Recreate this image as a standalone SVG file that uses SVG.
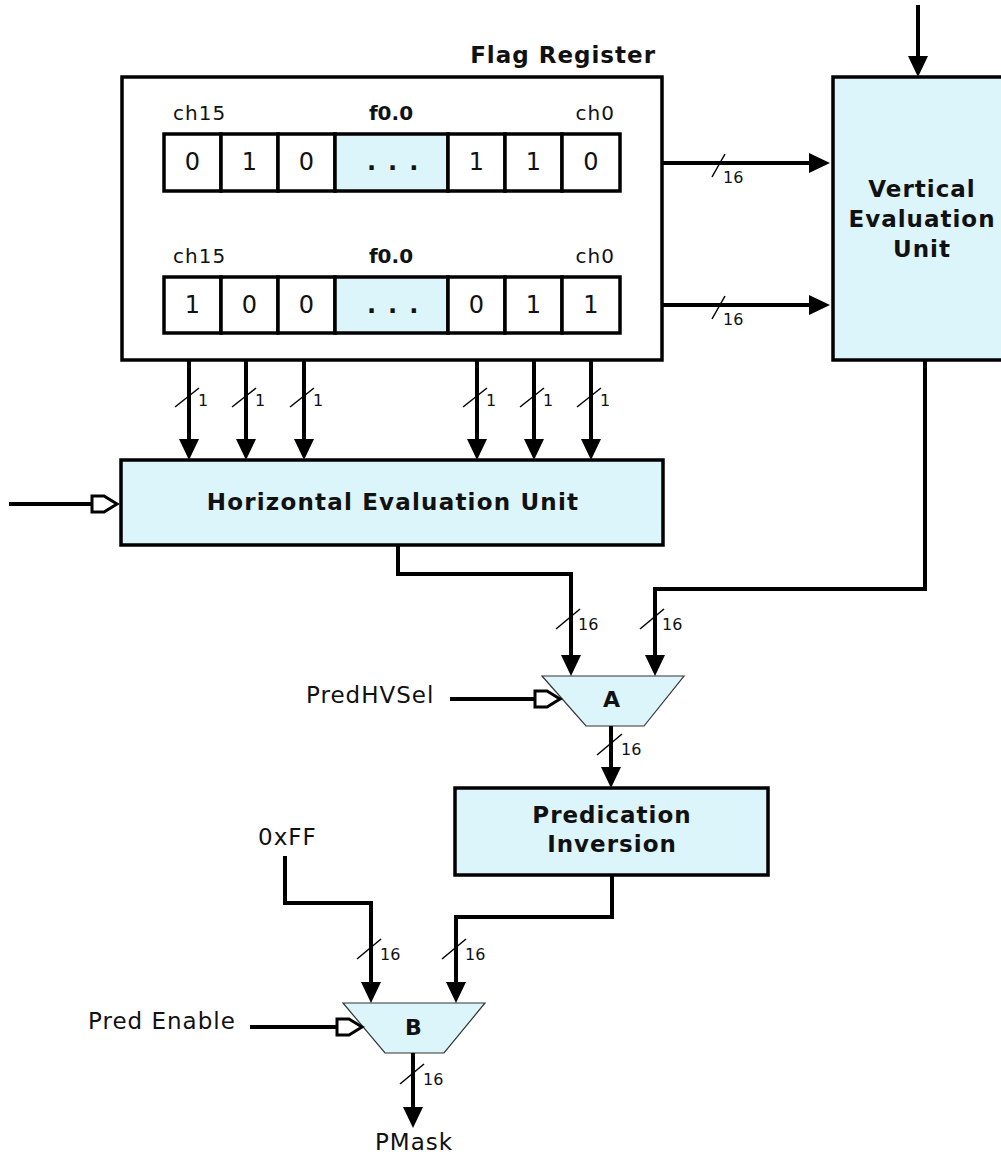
<svg xmlns="http://www.w3.org/2000/svg" width="1001" height="1155" viewBox="0 0 1001 1155">
<style>
.box{fill:#ffffff;stroke:#000;stroke-width:3.5}
.blue{fill:#dcf5fa;stroke:#000;stroke-width:3.5}
.cell{fill:#ffffff;stroke:#000;stroke-width:3.5}
.cellb{fill:#dcf5fa;stroke:#000;stroke-width:3.5}
.mux{fill:#dcf5fa;stroke:#333;stroke-width:1.2}
.wire{fill:none;stroke:#000;stroke-width:4}
.slash{fill:none;stroke:#000;stroke-width:1.5}
.t{font-family:"DejaVu Sans",Verdana,sans-serif;font-size:23px;letter-spacing:1px;fill:#111}
.ch{font-family:"DejaVu Sans",Verdana,sans-serif;font-size:20px;letter-spacing:1px;fill:#111}
.d{font-family:"DejaVu Sans",Verdana,sans-serif;font-size:24px;fill:#111;text-anchor:middle}
.dots{font-family:"DejaVu Sans",Verdana,sans-serif;font-size:24px;font-weight:bold;fill:#111;text-anchor:start;letter-spacing:12px}
.b{font-family:"DejaVu Sans",Verdana,sans-serif;font-size:23px;font-weight:bold;letter-spacing:1px;fill:#111}
.fb{font-family:"DejaVu Sans",Verdana,sans-serif;font-size:20px;font-weight:bold;fill:#111;text-anchor:middle}
.n{font-family:"DejaVu Sans",Verdana,sans-serif;font-size:16px;fill:#111}
.m{text-anchor:middle}
</style>
<defs>
<marker id="arr" markerUnits="userSpaceOnUse" viewBox="-20 -12 30 24" markerWidth="30" markerHeight="24" refX="0" refY="0" orient="auto" overflow="visible">
<path d="M-15,-10 L6,0 L-15,10 Z" fill="#000"/>
</marker>
<marker id="open" markerUnits="userSpaceOnUse" viewBox="-2 -10 30 20" markerWidth="30" markerHeight="20" refX="0" refY="0" orient="auto" overflow="visible">
<path d="M0,-8 H12 L25,0 L12,8 H0 Z" fill="#fff" stroke="#000" stroke-width="3"/>
</marker>
</defs>

<g id="flag-register">
<text class="b" x="656" y="63" text-anchor="end">Flag Register</text>
<rect class="box" x="122" y="77" width="540" height="283"/>
<g id="row1">
<text class="ch" x="173" y="120">ch15</text>
<text class="fb" x="391" y="120">f0.0</text>
<text class="ch" x="615" y="120" text-anchor="end">ch0</text>
<rect class="cell" x="164" y="134" width="57" height="57"/>
<rect class="cell" x="221" y="134" width="57" height="57"/>
<rect class="cell" x="278" y="134" width="57" height="57"/>
<rect class="cellb" x="335" y="134" width="113" height="57"/>
<rect class="cell" x="448" y="134" width="57" height="57"/>
<rect class="cell" x="505" y="134" width="57" height="57"/>
<rect class="cell" x="562" y="134" width="58" height="57"/>
<text class="d" x="192.5" y="170">0</text>
<text class="d" x="249.5" y="170">1</text>
<text class="d" x="306.5" y="170">0</text>
<text class="dots" x="367" y="170">...</text>
<text class="d" x="476.5" y="170">1</text>
<text class="d" x="533.5" y="170">1</text>
<text class="d" x="591" y="170">0</text>
</g>
<g id="row2">
<text class="ch" x="173" y="263">ch15</text>
<text class="fb" x="391" y="263">f0.0</text>
<text class="ch" x="615" y="263" text-anchor="end">ch0</text>
<rect class="cell" x="164" y="277" width="57" height="56"/>
<rect class="cell" x="221" y="277" width="57" height="56"/>
<rect class="cell" x="278" y="277" width="57" height="56"/>
<rect class="cellb" x="335" y="277" width="113" height="56"/>
<rect class="cell" x="448" y="277" width="57" height="56"/>
<rect class="cell" x="505" y="277" width="57" height="56"/>
<rect class="cell" x="562" y="277" width="58" height="56"/>
<text class="d" x="192.5" y="313">1</text>
<text class="d" x="249.5" y="313">0</text>
<text class="d" x="306.5" y="313">0</text>
<text class="dots" x="367" y="313">...</text>
<text class="d" x="476.5" y="313">0</text>
<text class="d" x="533.5" y="313">1</text>
<text class="d" x="591" y="313">1</text>
</g>
</g>

<g id="vertical-eval">
<rect class="blue" x="833" y="77" width="180" height="283"/>
<text class="b m" x="922" y="197">Vertical</text>
<text class="b m" x="922" y="227">Evaluation</text>
<text class="b m" x="922" y="257">Unit</text>
</g>

<g id="horizontal-eval">
<rect class="blue" x="121" y="460" width="542" height="85"/>
<text class="b m" x="393" y="510" style="letter-spacing:1.2px">Horizontal Evaluation Unit</text>
</g>

<g id="mux-a">
<polygon class="mux" points="542,676 684,676 644,726 586,726"/>
<text class="b m" x="612" y="707" style="font-size:22px">A</text>
</g>

<g id="predication-inversion">
<rect class="blue" x="455" y="788" width="313" height="87"/>
<text class="b m" x="612" y="823">Predication</text>
<text class="b m" x="612" y="852">Inversion</text>
</g>

<g id="mux-b">
<polygon class="mux" points="343,1003 485,1003 444,1053 385,1053"/>
<text class="b m" x="414" y="1035" style="font-size:22px">B</text>
</g>

<g id="labels">
<text class="t" x="306" y="703">PredHVSel</text>
<text class="t" x="258" y="845">0xFF</text>
<text class="t" x="88" y="1029">Pred Enable</text>
<text class="t m" x="414" y="1150">PMask</text>
</g>

<g id="connectors">
<path class="wire" d="M918,5 V71" marker-end="url(#arr)"/>
<path class="wire" d="M662,163 H824" marker-end="url(#arr)"/>
<path class="wire" d="M662,305 H824" marker-end="url(#arr)"/>
<path class="wire" d="M189,360 V454" marker-end="url(#arr)"/>
<path class="wire" d="M246,360 V454" marker-end="url(#arr)"/>
<path class="wire" d="M304,360 V454" marker-end="url(#arr)"/>
<path class="wire" d="M477,360 V454" marker-end="url(#arr)"/>
<path class="wire" d="M534,360 V454" marker-end="url(#arr)"/>
<path class="wire" d="M591,360 V454" marker-end="url(#arr)"/>
<path class="wire" d="M9,504 H92" marker-end="url(#open)"/>
<path class="wire" d="M398,545 V574 H571 V670" marker-end="url(#arr)"/>
<path class="wire" d="M925,360 V589 H655 V670" marker-end="url(#arr)"/>
<path class="wire" d="M450,699 H535" marker-end="url(#open)"/>
<path class="wire" d="M611,726 V782" marker-end="url(#arr)"/>
<path class="wire" d="M612,875 V917 H456 V997" marker-end="url(#arr)"/>
<path class="wire" d="M285,856 V903 H371 V997" marker-end="url(#arr)"/>
<path class="wire" d="M250,1027 H337" marker-end="url(#open)"/>
<path class="wire" d="M413,1053 V1122" marker-end="url(#arr)"/>

<g id="bus-widths">
<path class="slash" d="M712,177 L725,154"/>
<text class="n" x="723" y="183">16</text>
<path class="slash" d="M712,319 L725,296"/>
<text class="n" x="723" y="325">16</text>

<path class="slash" d="M175,407 L199,388"/>
<text class="n" x="198" y="406">1</text>
<path class="slash" d="M232,407 L256,388"/>
<text class="n" x="255" y="406">1</text>
<path class="slash" d="M290,407 L314,388"/>
<text class="n" x="313" y="406">1</text>
<path class="slash" d="M463,407 L487,388"/>
<text class="n" x="486" y="406">1</text>
<path class="slash" d="M520,407 L544,388"/>
<text class="n" x="543" y="406">1</text>
<path class="slash" d="M577,407 L601,388"/>
<text class="n" x="600" y="406">1</text>

<path class="slash" d="M556,629 L580,609"/>
<text class="n" x="578" y="630">16</text>
<path class="slash" d="M640,629 L664,609"/>
<text class="n" x="662" y="630">16</text>
<path class="slash" d="M597,755 L622,734"/>
<text class="n" x="621" y="755">16</text>
<path class="slash" d="M357,959 L381,939"/>
<text class="n" x="380" y="960">16</text>
<path class="slash" d="M442,959 L466,939"/>
<text class="n" x="465" y="960">16</text>
<path class="slash" d="M400,1084 L424,1064"/>
<text class="n" x="423" y="1085">16</text>
</g>
</g>
</svg>
